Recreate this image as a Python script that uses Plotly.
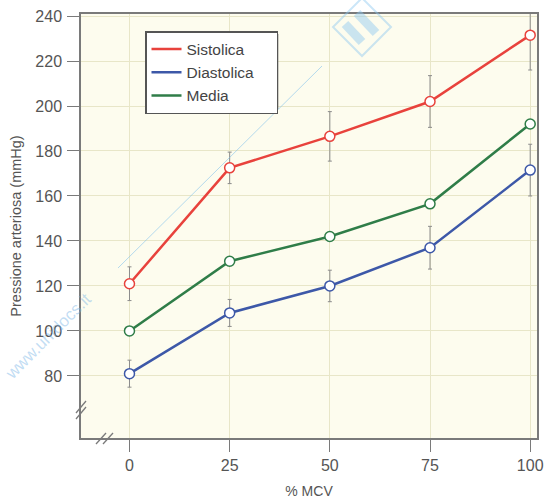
import plotly.graph_objects as go

mcv = [0, 25, 50, 75, 100]
sistolica = [121, 172.5, 186.5, 202, 231.5]
sistolica_err = [7.5, 7, 11, 11.5, 15.5]
diastolica = [81, 108, 120, 137, 171.5]
diastolica_err = [6, 6, 7, 9.5, 11.5]
media = [100, 131, 142, 156.5, 192]

y_ticks = [80, 100, 120, 140, 160, 180, 200, 220, 240]
x_ticks = [0, 25, 50, 75, 100]

RED = "#e8423c"
BLUE = "#3d58a8"
GREEN = "#2f7d48"
ERR = "#8c8c8c"
FONT = "Liberation Sans, Arial, sans-serif"
NB = "\u00a0"

fig = go.Figure()

def add_series(name, y, color, err=None, pad=0):
    kw = {}
    if err is not None:
        kw["error_y"] = dict(type="data", array=err, visible=True, color=ERR,
                             thickness=1, width=2)
    fig.add_trace(go.Scatter(
        x=mcv, y=y, mode="lines+markers", name=name, showlegend=False,
        line=dict(color=color, width=2.5),
        marker=dict(symbol="circle", size=10, color="white",
                    line=dict(color=color, width=1.5)),
        **kw))
    fig.add_trace(go.Scatter(
        x=[None], y=[None], mode="lines", name=name + NB * pad, showlegend=True,
        line=dict(color=color, width=2.5)))

add_series("Sistolica", sistolica, RED, sistolica_err)
add_series("Diastolica", diastolica, BLUE, diastolica_err, pad=4)
add_series("Media", media, GREEN)

axis_common = dict(
    showline=True, linecolor="#7a7a7a", linewidth=1.5, mirror=True,
    ticks="outside", ticklen=12, tickwidth=1.2, tickcolor="#7a7a7a",
    showgrid=True, gridcolor="#e8e6c8", gridwidth=1, zeroline=False,
    automargin=False,
    tickfont=dict(family=FONT, size=16, color="#555555"),
)

fig.update_xaxes(
    range=[-12.1, 101.7], tickvals=x_ticks, ticktext=[str(v) for v in x_ticks],
    ticklabelstandoff=0,
    title=dict(text="% MCV", standoff=14,
               font=dict(family=FONT, size=14, color="#555555")),
    **axis_common)
fig.update_yaxes(
    range=[52.4, 240.9], tickvals=y_ticks, ticktext=[str(v) for v in y_ticks],
    ticklabelstandoff=2,
    title=dict(text="Pressione arteriosa (mmHg)", standoff=10,
               font=dict(family=FONT, size=14.5, color="#555555")),
    **axis_common)

W, H = 546, 499
L, R, T, B = 81, 9, 14, 61
pw, ph = W - L - R, H - T - B

def px(x):
    return (x - L) / pw

def py(y):
    return 1 - (y - T) / ph

shapes = []
# axis break marks on the left axis
for dy in (0, 6):
    shapes.append(dict(type="line", xref="paper", yref="paper",
                       x0=px(76), y0=py(413 + dy), x1=px(86), y1=py(401 + dy),
                       line=dict(color="#7a7a7a", width=1.3)))
# axis break marks on the bottom axis
for dx in (0, 7):
    shapes.append(dict(type="line", xref="paper", yref="paper",
                       x0=px(96 + dx), y0=py(444), x1=px(106 + dx), y1=py(433),
                       line=dict(color="#7a7a7a", width=1.3)))
# legend shadow
shapes.append(dict(type="rect", xref="paper", yref="paper", layer="above",
                   x0=px(148), y0=py(109), x1=px(279), y1=py(34),
                   fillcolor="rgba(120,120,120,0.35)", line=dict(width=0)))
# watermark line
shapes.append(dict(type="line", xref="paper", yref="paper", layer="above",
                   x0=px(118), y0=py(268), x1=px(322), y1=py(66),
                   line=dict(color="rgba(120,190,235,0.55)", width=1)))
# watermark logo (diamond with two bars)
cx, cy, r = 362, 27, 29
shapes.append(dict(type="path", xref="paper", yref="paper", layer="above",
                   path=f"M {px(cx)} {py(cy - r)} L {px(cx + r)} {py(cy)} L {px(cx)} {py(cy + r)} L {px(cx - r)} {py(cy)} Z",
                   line=dict(color="rgba(140,200,240,0.45)", width=2)))
for (ax0, ay0, ax1, ay1) in [(345, 24, 362, 42), (357, 13, 376, 33)]:
    shapes.append(dict(type="line", xref="paper", yref="paper", layer="above",
                       x0=px(ax0), y0=py(ay0), x1=px(ax1), y1=py(ay1),
                       line=dict(color="rgba(140,200,240,0.45)", width=9)))
fig.update_layout(shapes=shapes)

fig.add_annotation(text="www.unidocs.it", xref="paper", yref="paper",
                   x=px(48), y=py(336), xanchor="center", yanchor="middle",
                   showarrow=False, textangle=-45,
                   font=dict(family=FONT, size=17, color="rgba(120,180,230,0.45)"))

fig.update_layout(
    width=W, height=H,
    margin=dict(l=L, r=R, t=T, b=B, pad=0, autoexpand=False),
    paper_bgcolor="white",
    plot_bgcolor="#fdfcee",
    legend=dict(x=px(145), y=py(31), xanchor="left", yanchor="top",
                bgcolor="white", bordercolor="#555555", borderwidth=1.5,
                itemwidth=30,
                font=dict(family=FONT, size=15.5, color="#444444")),
)

fig.write_html("out.html")
